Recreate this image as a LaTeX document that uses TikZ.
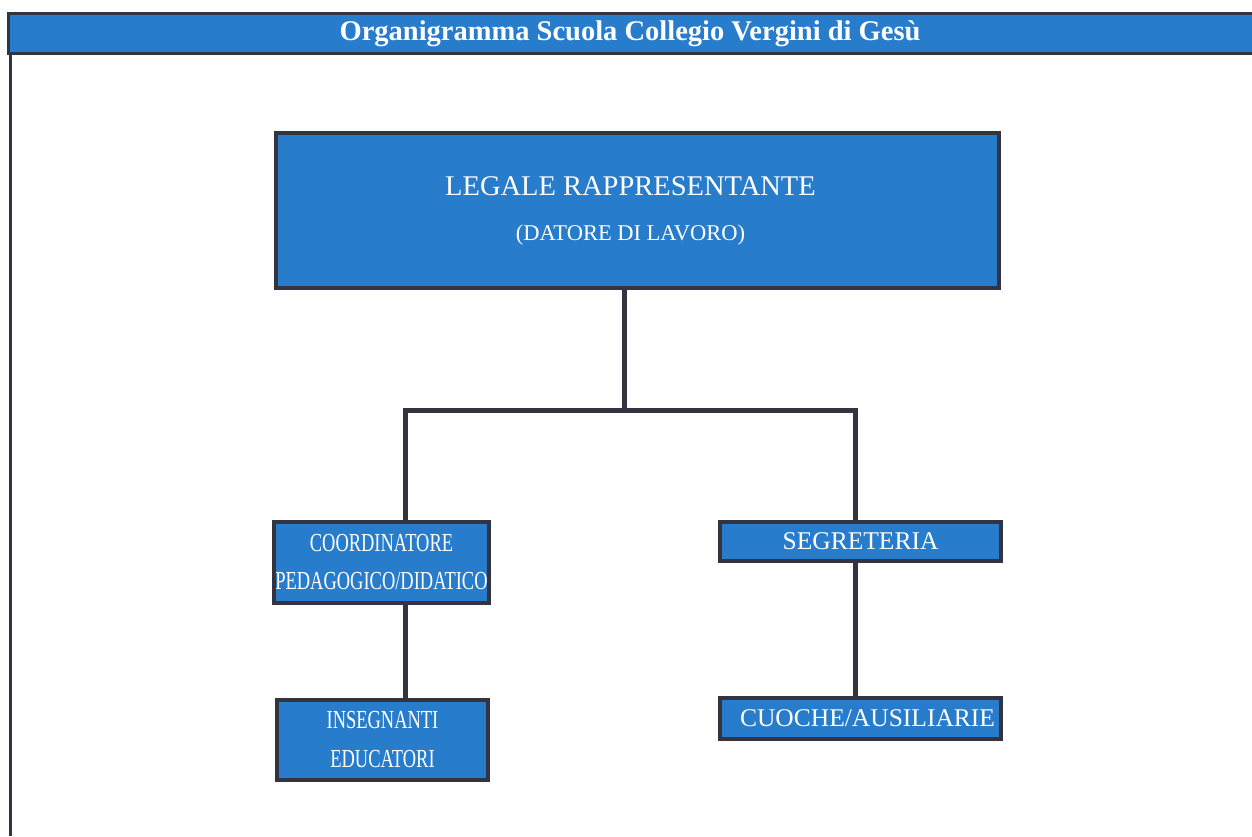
\documentclass[tikz,border=0pt]{standalone}
\usepackage{fontspec}
\usepackage{graphicx}
\setmainfont{Liberation Serif}
\definecolor{boxblue}{RGB}{40,124,204}
\definecolor{edge}{RGB}{52,52,64}

\def\narrow#1{\scalebox{0.71}[1]{#1}}

\begin{document}
\begin{tikzpicture}[x=1pt,y=-1pt,
  every text node part/.style={align=center},
  box/.style={draw=edge,line width=4pt,fill=boxblue,text=white,inner sep=0pt},
  conn/.style={draw=edge,line width=5pt}]
  \useasboundingbox (0,0) rectangle (1252,836);

  % title band and frame
  \fill[boxblue] (8,13) rectangle (1252,53);
  \draw[edge,line width=3pt] (1252,13) -- (8,13) -- (8,53) -- (1252,53);
  \draw[edge,line width=3pt] (10,53) -- (10,836);
  \node[text=white,font=\fontsize{28.5}{32}\selectfont\bfseries] (title) at (630,34)
    {Organigramma Scuola Collegio Vergini di Gesù};

  \node[box,minimum width=723pt,minimum height=155pt,font=\fontsize{28.5}{45}\selectfont] (lrap) at (637.5,210.5)
    {\raisebox{-5pt}{LEGALE RAPPRESENTANTE}\hspace*{14pt}\\\fontsize{22.5}{45}\selectfont\raisebox{-5pt}{(DATORE DI LAVORO)}\hspace*{14pt}};
  \node[box,minimum width=215pt,minimum height=81pt,font=\fontsize{26}{38}\selectfont] (coord) at (381.5,562.5)
    {\narrow{COORDINATORE}\\\narrow{PEDAGOGICO/DIDATICO}};
  \node[box,minimum width=211pt,minimum height=80pt,font=\fontsize{26}{39}\selectfont] (inse) at (382.5,740)
    {\narrow{INSEGNANTI}\\\narrow{EDUCATORI}};
  \node[box,minimum width=281pt,minimum height=39pt,font=\fontsize{25.5}{30}\selectfont] (segr) at (860.5,541)
    {SEGRETERIA};
  \node[box,minimum width=281pt,minimum height=41pt,text width=279pt,align=right,font=\fontsize{25.5}{30}\selectfont] (cuoc) at (860.5,718.5)
    {CUOCHE/AUSILIARIE\hspace*{-14pt}};

  \coordinate (bus) at (624,410);
  \coordinate (busl) at (405,410);
  \coordinate (busr) at (855,410);

  \draw[conn] (lrap.south -| bus) -- (bus);
  \draw[conn] (coord.north -| busl) -- (busl) -- (busr) -- (segr.north -| busr);
  \draw[conn] (coord.south -| busl) -- (inse.north -| busl);
  \draw[conn] (segr.south -| busr) -- (cuoc.north -| busr);
\end{tikzpicture}
\end{document}
